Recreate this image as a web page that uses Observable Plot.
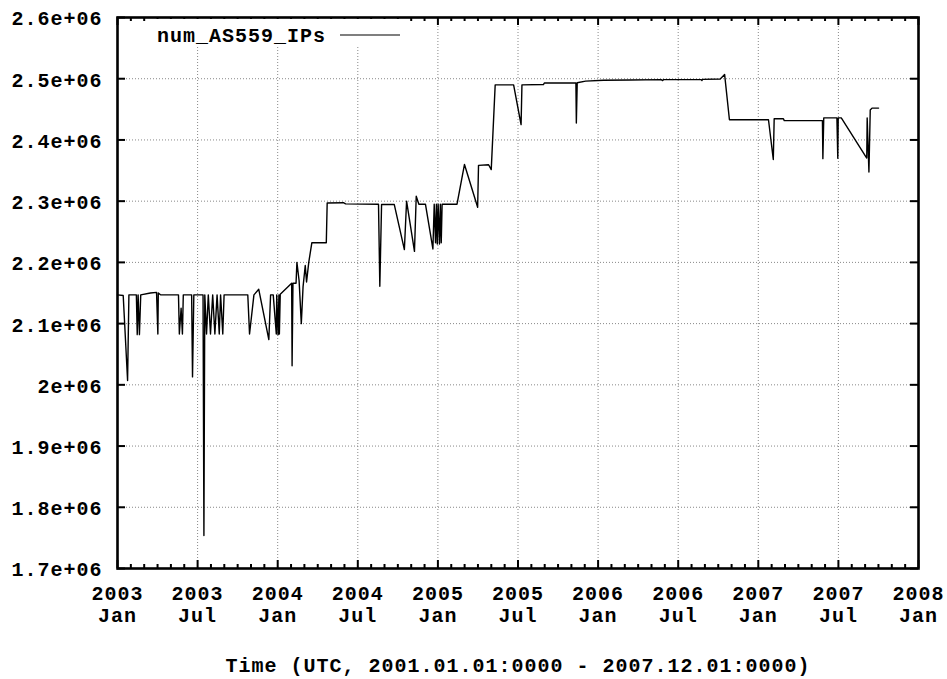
<!DOCTYPE html>
<html>
<head>
<meta charset="utf-8">
<script src="https://cdn.jsdelivr.net/npm/d3@7"></script>
<script src="https://cdn.jsdelivr.net/npm/@observablehq/plot@0.6"></script>
<style>
  body { margin: 0; background: #fff; }
  #wrap { position: relative; width: 947px; height: 679px; }
  #key { position: absolute; left: 0; top: 0; pointer-events: none; }
  #key text { font-family: "Liberation Mono", monospace; font-weight: bold; font-size: 20px; letter-spacing: 1px; }
</style>
</head>
<body>
<div id="wrap"></div>
<script>
// ---------- data ----------
const seriesName = "num_AS559_IPs";
const xTitle = "Time (UTC, 2001.01.01:0000 - 2007.12.01:0000)";

const dates = [
  "2003-01-01","2003-01-14","2003-01-24","2003-01-27","2003-02-13","2003-02-15","2003-02-17","2003-02-20","2003-02-23",
  "2003-03-17","2003-03-31","2003-04-03","2003-04-04","2003-04-09","2003-05-20","2003-05-22","2003-05-26","2003-05-29",
  "2003-05-31","2003-06-19","2003-06-21","2003-06-24","2003-07-15","2003-07-17","2003-07-19","2003-07-23","2003-07-27",
  "2003-08-01","2003-08-06","2003-08-11","2003-08-16","2003-08-21","2003-08-24","2003-08-29","2003-09-01","2003-10-25",
  "2003-10-29","2003-11-08","2003-11-19","2003-12-12","2003-12-16","2003-12-22","2003-12-29","2003-12-30","2004-01-02",
  "2004-01-04","2004-01-05","2004-01-07","2004-02-02","2004-02-03","2004-02-05","2004-02-12","2004-02-14","2004-02-19",
  "2004-02-24","2004-02-28","2004-03-04","2004-03-07","2004-03-12","2004-03-19","2004-04-21","2004-04-23","2004-05-30",
  "2004-06-04","2004-08-18","2004-08-21","2004-08-25","2004-09-23","2004-10-16","2004-10-21","2004-11-08","2004-11-12",
  "2004-11-18","2004-12-03","2004-12-20","2004-12-23","2004-12-26","2004-12-28","2004-12-30","2005-01-01","2005-01-04",
  "2005-01-06","2005-01-08","2005-01-10","2005-02-13","2005-03-02","2005-04-01","2005-04-03","2005-04-26","2005-05-02",
  "2005-05-11","2005-06-22","2005-07-09","2005-07-11","2005-08-29","2005-08-31","2005-11-11","2005-11-12","2005-11-14",
  "2005-12-03","2006-01-13","2006-03-15","2006-05-25","2006-05-27","2006-05-30","2006-08-24","2006-08-25","2006-08-27",
  "2006-10-06","2006-10-16","2006-10-27","2007-01-24","2007-02-04","2007-02-06","2007-02-27","2007-03-01","2007-05-27",
  "2007-05-28","2007-05-30","2007-06-29","2007-07-01","2007-07-02","2007-07-09","2007-09-05","2007-09-06","2007-09-10",
  "2007-09-13","2007-09-17","2007-10-02"
];
const values = [
  2147000,2146000,2007000,2147000,2147000,2082000,2147000,2082000,2147000,
  2150000,2151000,2083000,2150000,2147000,2147000,2083000,2125000,2083000,
  2147000,2147000,2013000,2147000,2147000,1754000,2147000,2083000,2147000,
  2083000,2147000,2083000,2147000,2083000,2147000,2083000,2147000,2147000,
  2083000,2147000,2156000,2074000,2147000,2147000,2083000,2147000,2082000,
  2147000,2083000,2148000,2166000,2031000,2166000,2166000,2200000,2170000,
  2100000,2160000,2195000,2168000,2200000,2232000,2232000,2297000,2297500,
  2295500,2295000,2161000,2294800,2294500,2221000,2300000,2218000,2308000,
  2295000,2295000,2222000,2295000,2232000,2295000,2230000,2295000,2230000,
  2295000,2232000,2295000,2295000,2360000,2290000,2358500,2359500,2351500,
  2490000,2490000,2425000,2490000,2490500,2493000,2493000,2427500,2493500,
  2496000,2497500,2498000,2498500,2497000,2498500,2498500,2497000,2499000,
  2499500,2507000,2433000,2433000,2368000,2434500,2434500,2431500,2431500,
  2369500,2436000,2436000,2370000,2436000,2436000,2370500,2436000,2347600,
  2449000,2452000,2452000
];

const xDomain = ["2003-01-01", "2008-01-01"];
const xTickLabels = ["2003\nJan","2003\nJul","2004\nJan","2004\nJul","2005\nJan","2005\nJul",
                     "2006\nJan","2006\nJul","2007\nJan","2007\nJul","2008\nJan"];
const yTicks = [1700000,1800000,1900000,2000000,2100000,2200000,2300000,2400000,2500000,2600000];
const yTickLabels = ["1.7e+06","1.8e+06","1.9e+06","2e+06","2.1e+06","2.2e+06","2.3e+06","2.4e+06","2.5e+06","2.6e+06"];

// ---------- build ----------
const parse = s => new Date(s + "T00:00:00Z");
const data = dates.map((d, i) => ({date: parse(d), value: values[i]}));
const x0 = parse(xDomain[0]), x1 = parse(xDomain[1]);
const nInt = xTickLabels.length - 1;
const xTicks = d3.range(xTickLabels.length).map(i => new Date(+x0 + i * (x1 - x0) / nInt));
const minorPer = 6;
const xMinor = [];
for (let i = 0; i < nInt; i++) for (let j = 1; j < minorPer; j++)
  xMinor.push(new Date(+xTicks[i] + j * (xTicks[i + 1] - xTicks[i]) / minorPer));
const xLabelMap = new Map(xTicks.map((t, i) => [+t, xTickLabels[i]]));
const yLabelMap = new Map(yTicks.map((t, i) => [t, yTickLabels[i]]));

const W = 947, H = 679, mL = 117, mR = 29, mT = 17, mB = 111;
const FW = W - mL - mR, FH = H - mT - mB;

const gridStyle = {stroke: "#888", strokeWidth: 1, strokeDasharray: "1,2"};

const chart = Plot.plot({
  width: W, height: H,
  marginLeft: mL, marginRight: mR, marginTop: mT, marginBottom: mB,
  style: {fontFamily: "Liberation Mono, monospace", fontWeight: "bold", fontSize: "20px", letterSpacing: "1px", color: "black", background: "white"},
  x: {type: "utc", domain: [x0, x1]},
  y: {domain: [yTicks[0], yTicks[yTicks.length - 1]]},
  marks: [
    Plot.ruleX(xTicks.slice(1, -1), {x: d => d, ...gridStyle}),
    Plot.ruleY(yTicks.slice(1, -1), {y: d => d, ...gridStyle}),
    Plot.line(data, {x: "date", y: "value", stroke: "black", strokeWidth: 1.4}),
    // inward ticks
    Plot.tickX(xTicks, {x: d => d, insetTop: FH - 8, stroke: "black", strokeWidth: 2}),
    Plot.tickX(xTicks, {x: d => d, insetBottom: FH - 8, stroke: "black", strokeWidth: 2}),
    Plot.tickX(xMinor, {x: d => d, insetTop: FH - 4, stroke: "black", strokeWidth: 2}),
    Plot.tickX(xMinor, {x: d => d, insetBottom: FH - 4, stroke: "black", strokeWidth: 2}),
    Plot.tickY(yTicks, {y: d => d, insetRight: FW - 8, stroke: "black", strokeWidth: 2}),
    Plot.tickY(yTicks, {y: d => d, insetLeft: FW - 8, stroke: "black", strokeWidth: 2}),
    Plot.frame({stroke: "black", strokeWidth: 2.6}),
    Plot.axisX(xTicks, {tickSize: 0, tickPadding: 16, tickFormat: d => xLabelMap.get(+d), lineHeight: 1.1, label: null}),
    Plot.axisY(yTicks, {tickSize: 0, tickPadding: 15, tickFormat: d => yLabelMap.get(d), dy: 1.5, label: null}),
    Plot.text([xTitle], {text: d => d, frameAnchor: "bottom", lineAnchor: "middle", dy: 97, fill: "black"})
  ]
});
const wrap = document.getElementById("wrap");
wrap.appendChild(chart);

// legend (key) overlay, gnuplot style
const ns = "http://www.w3.org/2000/svg";
const key = document.createElementNS(ns, "svg");
key.setAttribute("id", "key"); key.setAttribute("width", W); key.setAttribute("height", 60);
const bg = document.createElementNS(ns, "rect");
bg.setAttribute("x", 150); bg.setAttribute("y", 19); bg.setAttribute("width", 258); bg.setAttribute("height", 28); bg.setAttribute("fill", "white");
const tx = document.createElementNS(ns, "text");
tx.setAttribute("x", 326); tx.setAttribute("y", 42); tx.setAttribute("text-anchor", "end"); tx.textContent = seriesName;
const ln = document.createElementNS(ns, "line");
ln.setAttribute("x1", 340); ln.setAttribute("x2", 400); ln.setAttribute("y1", 35); ln.setAttribute("y2", 35);
ln.setAttribute("stroke", "black"); ln.setAttribute("stroke-width", 1.2);
key.append(bg, tx, ln);
wrap.appendChild(key);
</script>
</body>
</html>
